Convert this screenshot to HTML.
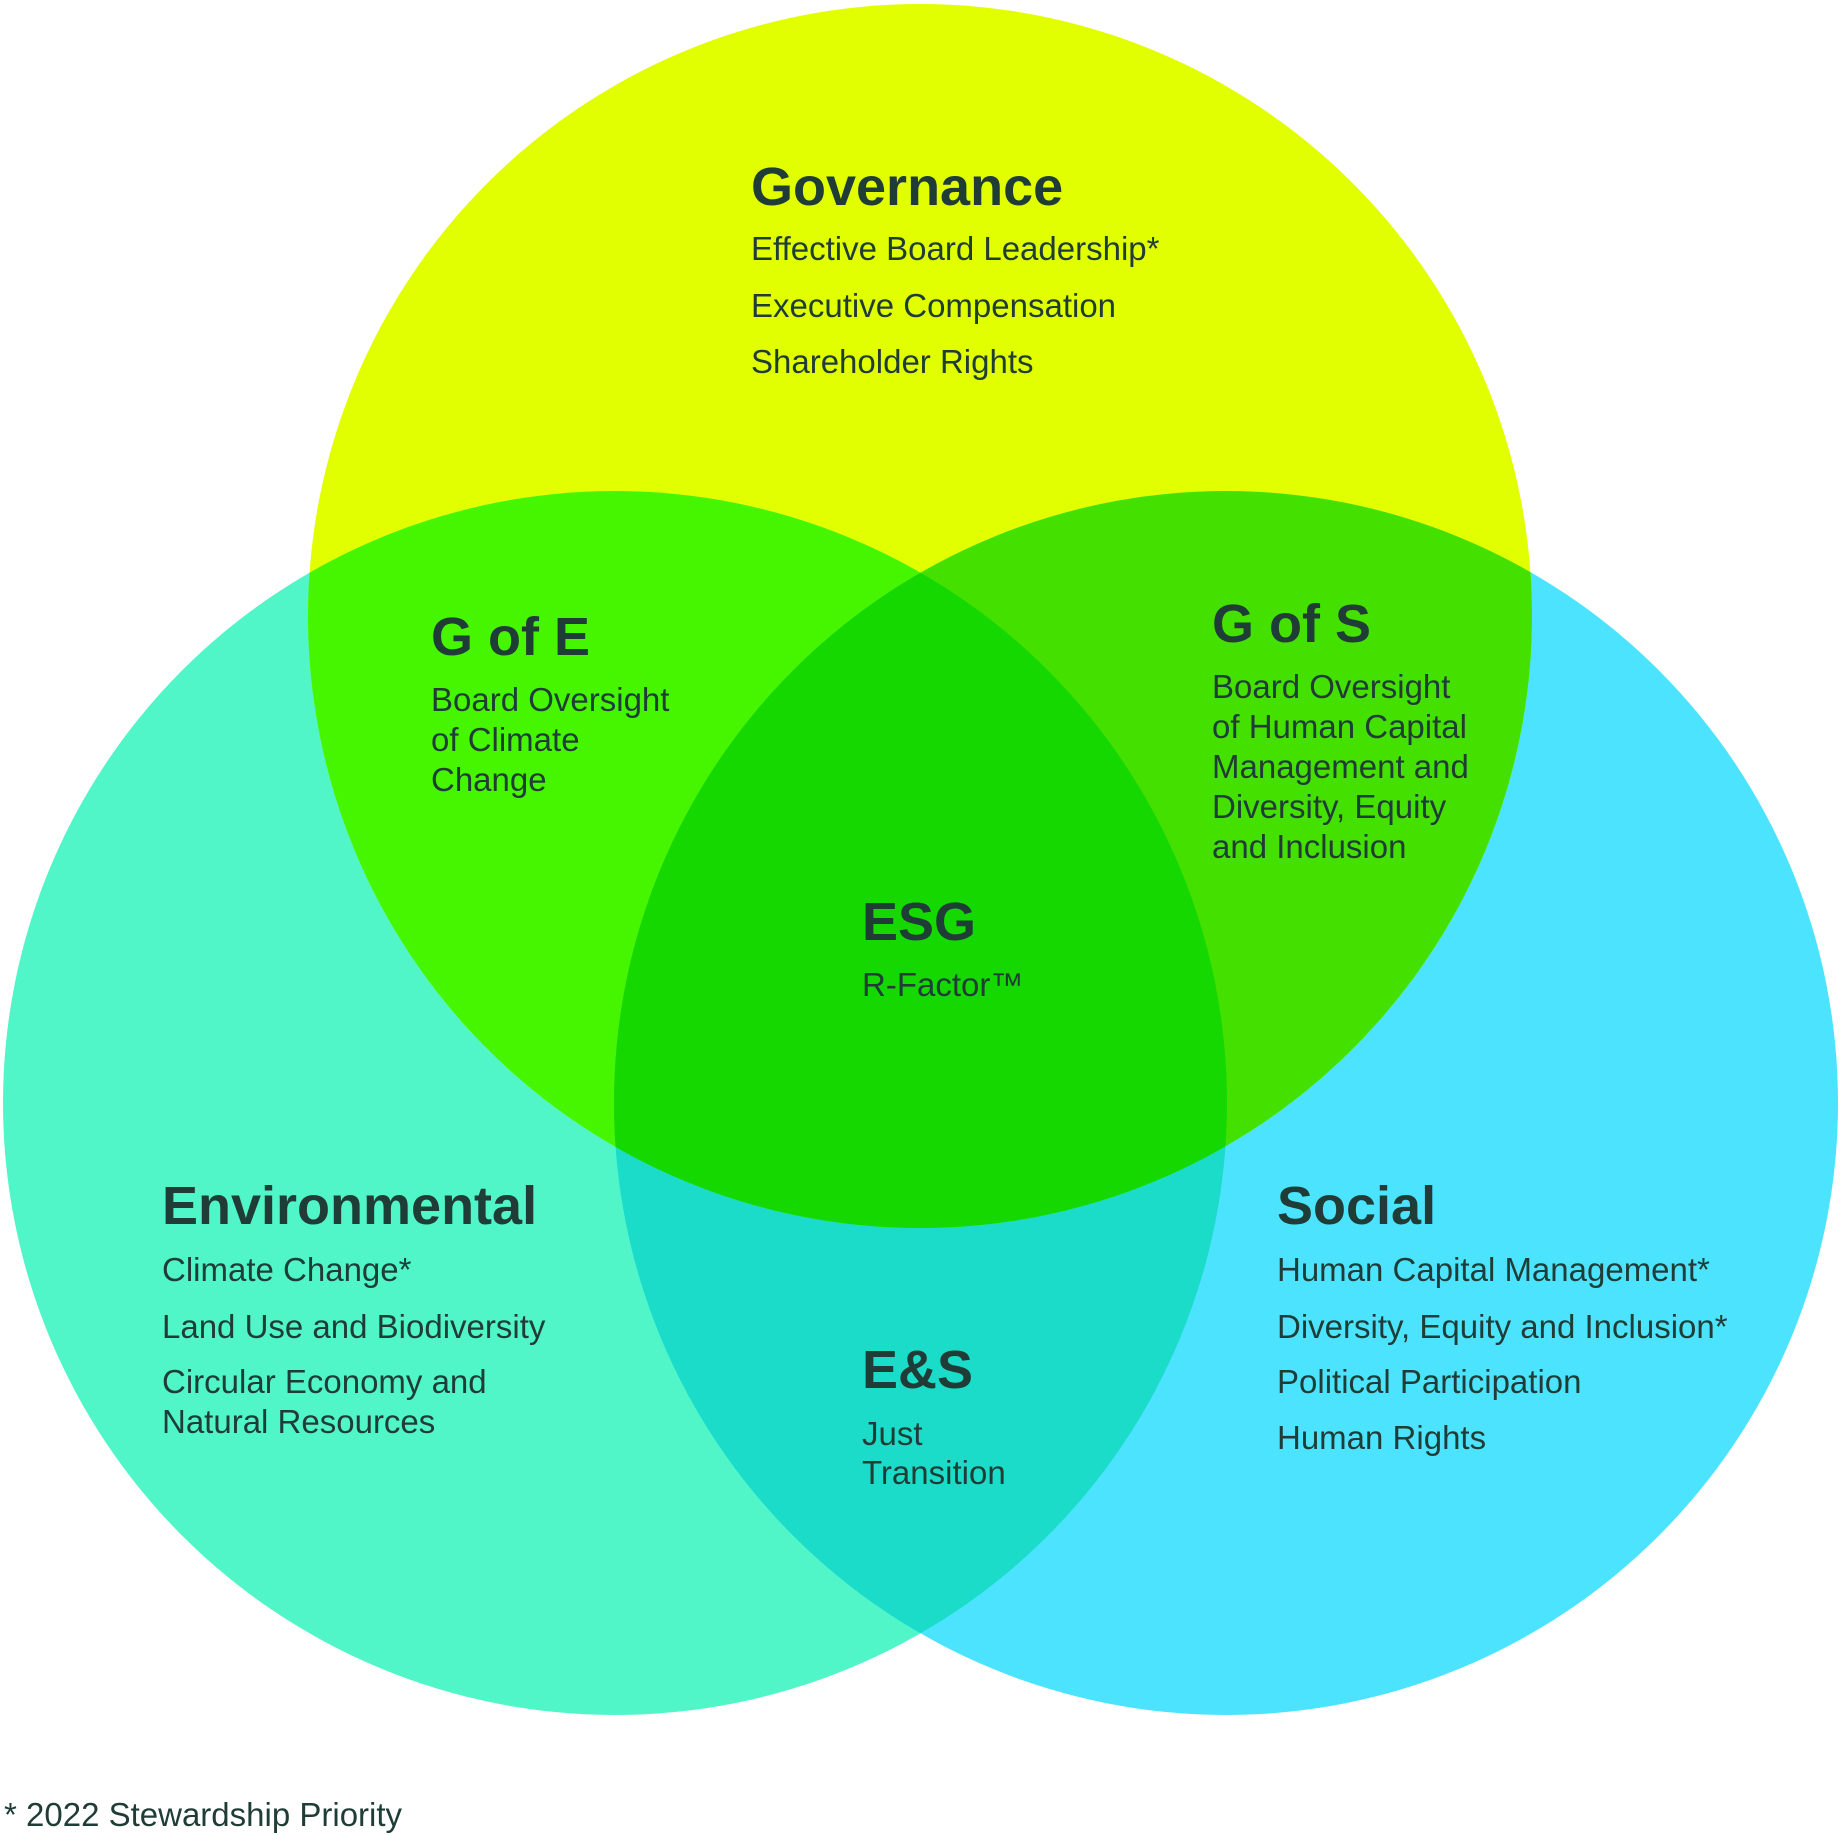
<!DOCTYPE html>
<html><head><meta charset="utf-8"><style>
html,body{margin:0;padding:0;background:#fff;}
svg{display:block;}
text{font-family:"Liberation Sans",sans-serif;fill:#1f3d36;}
.h{font-weight:bold;font-size:54px;}
.b{font-size:33px;}
</style></head><body>
<svg width="1840" height="1835" viewBox="0 0 1840 1835" xmlns="http://www.w3.org/2000/svg">
<defs>
<clipPath id="cg"><circle cx="920" cy="616" r="612"/></clipPath>
<clipPath id="ce"><circle cx="615" cy="1103" r="612"/></clipPath>
<clipPath id="cs"><circle cx="1226" cy="1103" r="612"/></clipPath>
</defs>
<rect width="1840" height="1835" fill="#fff"/>
<circle cx="615" cy="1103" r="612" fill="#50f5c8"/>
<circle cx="1226" cy="1103" r="612" fill="#4ce3ff"/>
<circle cx="920" cy="616" r="612" fill="#e2ff00"/>
<g clip-path="url(#ce)"><circle cx="1226" cy="1103" r="612" fill="#1adcc8"/><circle cx="920" cy="616" r="612" fill="#46f500"/></g>
<g clip-path="url(#cs)"><circle cx="920" cy="616" r="612" fill="#44e000"/></g>
<g clip-path="url(#ce)"><g clip-path="url(#cs)"><circle cx="920" cy="616" r="612" fill="#14d800"/></g></g>

<text class="h" x="751" y="205">Governance</text>
<text class="b" x="751" y="260">Effective Board Leadership*</text>
<text class="b" x="751" y="317">Executive Compensation</text>
<text class="b" x="751" y="373">Shareholder Rights</text>

<text class="h" x="431" y="655">G of E</text>
<text class="b" x="431" y="711">Board Oversight</text>
<text class="b" x="431" y="751">of Climate</text>
<text class="b" x="431" y="791">Change</text>

<text class="h" x="1212" y="642">G of S</text>
<text class="b" x="1212" y="698">Board Oversight</text>
<text class="b" x="1212" y="738">of Human Capital</text>
<text class="b" x="1212" y="778">Management and</text>
<text class="b" x="1212" y="818">Diversity, Equity</text>
<text class="b" x="1212" y="858">and Inclusion</text>

<text class="h" x="862" y="940">ESG</text>
<text class="b" x="862" y="996">R-Factor™</text>

<text class="h" x="162" y="1224">Environmental</text>
<text class="b" x="162" y="1281">Climate Change*</text>
<text class="b" x="162" y="1338">Land Use and Biodiversity</text>
<text class="b" x="162" y="1393">Circular Economy and</text>
<text class="b" x="162" y="1433">Natural Resources</text>

<text class="h" x="862" y="1388">E&amp;S</text>
<text class="b" x="862" y="1445">Just</text>
<text class="b" x="862" y="1484">Transition</text>

<text class="h" x="1277" y="1224">Social</text>
<text class="b" x="1277" y="1281">Human Capital Management*</text>
<text class="b" x="1277" y="1338">Diversity, Equity and Inclusion*</text>
<text class="b" x="1277" y="1393">Political Participation</text>
<text class="b" x="1277" y="1449">Human Rights</text>

<text class="b" x="4" y="1826">* 2022 Stewardship Priority</text>
</svg>
</body></html>
